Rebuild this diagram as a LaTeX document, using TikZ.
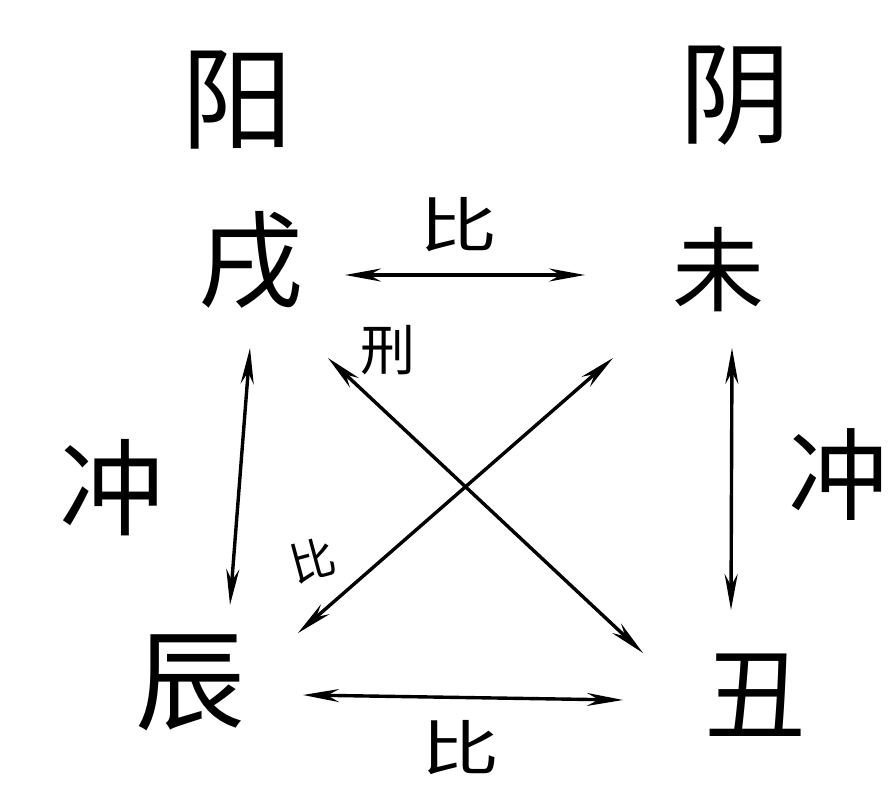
\documentclass[tikz,border=0pt]{standalone}
\usepackage{fontspec}
\newfontfamily\cjk{Noto Sans CJK SC}
\usetikzlibrary{arrows.meta}
\begin{document}
\begin{tikzpicture}[x=1pt,y=-1pt,
  glyph/.style={inner sep=0pt, font=\cjk\fontsize{#1}{#1}\selectfont},
  link/.style={line width=3.4pt, line cap=round,
    {Stealth[length=36pt,width=13pt]}-{Stealth[length=36pt,width=13pt]}}]
\useasboundingbox (0,0) rectangle (896,784);
% big labels
\node[glyph=112] (yang) at (237,100) {阳};
\node[glyph=112] (yin)  at (735,95) {阴};
\node[glyph=105] (xu)   at (251,260) {戌};
\node[glyph=92]  (wei)  at (718,270) {未};
\node[glyph=110] (chen) at (190,683) {辰};
\node[glyph=100] (chou) at (755,695) {丑};
% relation labels
\node[glyph=60, xscale=1.3] (bitop) at (458,225) {比};
\node[glyph=60, xscale=1.3] (bibot) at (460,748) {比};
\node[glyph=105] (chongl) at (112,488) {冲};
\node[glyph=100] (chongr) at (838,475) {冲};
\node[glyph=55] (xing) at (388,350) {刑};
\node[glyph=45, rotate=15] (bismall) at (313,560) {比};
% connector end points
\coordinate (t1) at (345,275); \coordinate (t2) at (585,275);
\coordinate (l1) at (250,348); \coordinate (l2) at (230,605);
\coordinate (r1) at (732,348); \coordinate (r2) at (731,610);
\coordinate (b1) at (303,695); \coordinate (b2) at (623,700);
\coordinate (d1) at (328,358); \coordinate (d2) at (643,653);
\coordinate (e1) at (298,633); \coordinate (e2) at (613,358);
% connectors
\draw[link] (t1) -- (t2);
\draw[link] (l1) -- (l2);
\draw[link] (r1) -- (r2);
\draw[link] (b1) -- (b2);
\draw[link] (d1) -- (d2);
\draw[link] (e1) -- (e2);
\end{tikzpicture}
\end{document}
